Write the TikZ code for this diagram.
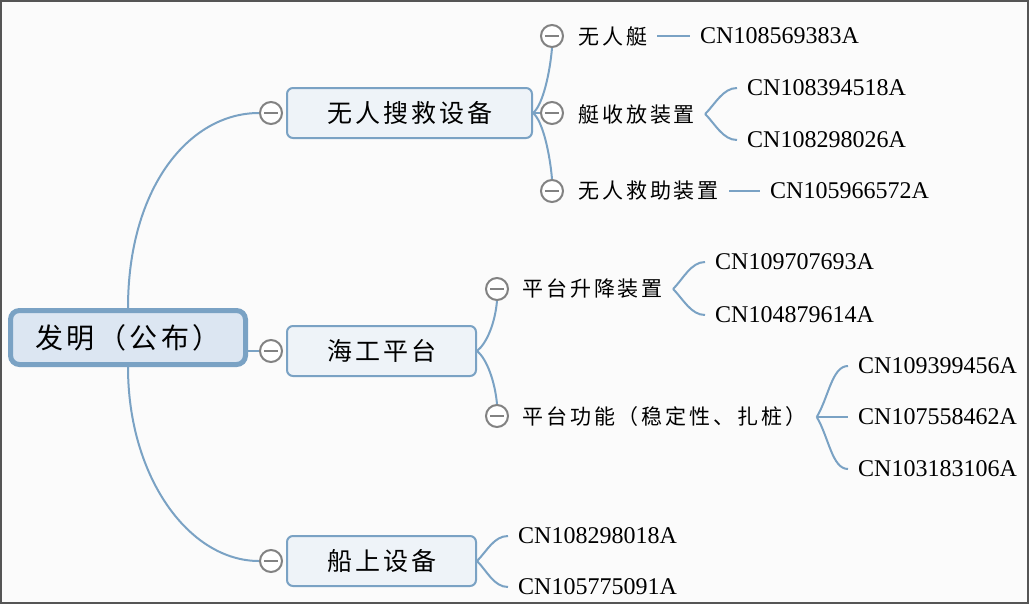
\documentclass[tikz,border=0pt]{standalone}
\usepackage{fontspec}
\setmainfont{Liberation Serif}
\newfontfamily\cjkbig{Noto Sans CJK SC}[LetterSpace=12]
\newfontfamily\cjksmall{Noto Sans CJK SC}[LetterSpace=14]
\definecolor{linkblue}{RGB}{122,162,196}
\definecolor{rootfill}{RGB}{220,230,242}
\definecolor{boxfill}{RGB}{238,243,248}
\definecolor{toggray}{RGB}{130,130,130}
\definecolor{framegray}{RGB}{85,85,85}
\definecolor{bgwhite}{RGB}{251,251,251}
\tikzset{
  rootbox/.style = {draw = linkblue, line width = 5pt, fill = rootfill, rounded corners = 9pt,
    minimum width = 235pt, minimum height = 54pt, font = \cjkbig\fontsize{28}{32}\selectfont},
  topicbox/.style = {draw = linkblue, line width = 2pt, fill = boxfill, rounded corners = 6pt,
    minimum height = 50pt, font = \cjkbig\fontsize{25}{30}\selectfont},
  toggle/.style = {circle, draw = toggray, line width = 2pt, fill = white, minimum size = 22pt, inner sep = 0pt,
    path picture = {\draw[toggray, line width = 2pt] ([xshift = 4pt]path picture bounding box.west) -- ([xshift = -4pt]path picture bounding box.east);}},
  sublabel/.style = {anchor = west, inner xsep = 10pt, font = \cjksmall\fontsize{21}{25}\selectfont},
  patent/.style = {anchor = west, inner xsep = 10pt, font = \fontsize{24}{28}\selectfont},
  link/.style = {draw = linkblue, line width = 2pt}
}
\begin{document}
\begin{tikzpicture}[x = 1pt, y = -1pt]
\useasboundingbox (0,0) rectangle (1031,606);
\fill[bgwhite] (1,1) rectangle (1028,603);
\draw[framegray, line width = 2pt] (1,1) rectangle (1028,603);

\node[rootbox] (root) at (128,337.5) {发明（公布）};
\node[topicbox, minimum width = 245pt] (b1) at (409.5,113) {无人搜救设备};
\node[topicbox, minimum width = 189pt] (b2) at (381.5,351) {海工平台};
\node[topicbox, minimum width = 189pt] (b3) at (381.5,561) {船上设备};

\foreach \nm/\x/\y in {t1/271/113, t2/271/351, t3/271/561, t11/552/36, t12/552/113, t13/552/191, t21/497/289, t22/497/416}
{
\node[toggle] (\nm) at (\x,\y) {};
}

\node[sublabel] (l11) at (568,36) {无人艇};
\node[sublabel] (l12) at (568,114) {艇收放装置};
\node[sublabel] (l13) at (568,191) {无人救助装置};
\node[sublabel] (l21) at (512,289) {平台升降装置};
\node[sublabel] (l22) at (512,417) {平台功能（稳定性、扎桩）};

\foreach \nm/\x/\y/\num in {c11/690/36/CN108569383A, c121/737/88/CN108394518A, c122/737/140/CN108298026A,
  c13/760/191/CN105966572A, c211/705/262/CN109707693A, c212/705/315/CN104879614A,
  c221/848/366/CN109399456A, c222/848/417/CN107558462A, c223/848/469/CN103183106A,
  c31/508/536/CN108298018A, c32/508/587/CN105775091A}
{
\node[patent] (\nm) at (\x,\y) {\num};
}

\draw[link] (root.north) .. controls +(0,-120) and +(-70,0) .. (t1.west);
\draw[link] (root.east |- t2) -- (t2.west);
\draw[link] (root.south) .. controls +(0,110) and +(-70,0) .. (t3.west);

\draw[link] (b1.east) .. controls +(10,-8) and +(-2,24) .. (t11.south);
\draw[link] (b1.east) -- (t12.west);
\draw[link] (b1.east) .. controls +(10,8) and +(-2,-24) .. (t13.north);
\draw[link] (b2.east) .. controls +(10,-8) and +(-2,22) .. (t21.south);
\draw[link] (b2.east) .. controls +(10,8) and +(-2,-22) .. (t22.north);
\draw[link] (b3.east) .. controls +(10,-10) and +(-14,0) .. (c31.west);
\draw[link] (b3.east) .. controls +(10,10) and +(-14,0) .. (c32.west);

\draw[link] (l11.east) -- (c11.west);
\draw[link] (l12.east) .. controls +(10,-10) and +(-14,0) .. (c121.west);
\draw[link] (l12.east) .. controls +(10,10) and +(-14,0) .. (c122.west);
\draw[link] (l13.east) -- (c13.west);
\draw[link] (l21.east) .. controls +(10,-10) and +(-14,0) .. (c211.west);
\draw[link] (l21.east) .. controls +(10,10) and +(-14,0) .. (c212.west);
\draw[link] (l22.east) .. controls +(12,-20) and +(-16,0) .. (c221.west);
\draw[link] (l22.east) -- (c222.west);
\draw[link] (l22.east) .. controls +(12,20) and +(-16,0) .. (c223.west);
\end{tikzpicture}
\end{document}
